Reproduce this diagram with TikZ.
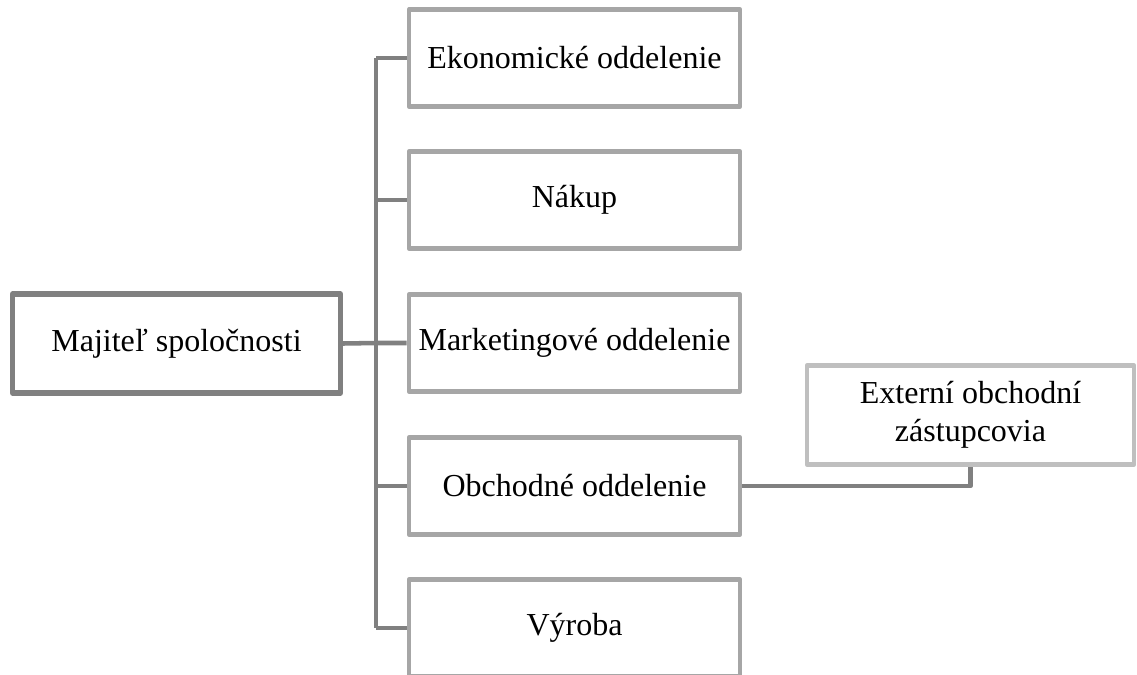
\documentclass[tikz,border=0pt]{standalone}
\usepackage{fontspec}
\setmainfont{Liberation Serif}
\begin{document}
\begin{tikzpicture}[x=0.75pt,y=-0.75pt,
  boxfont/.style={font=\fontsize{24}{28.5}\selectfont},
  ownerbox/.style={draw=ownerc,line width=4pt,line join=round,fill=white,minimum width=328*0.75pt,minimum height=99*0.75pt,inner sep=0pt,boxfont},
  childbox/.style={draw=childc,line width=3.6pt,line join=round,fill=white,minimum width=331*0.75pt,minimum height=97*0.75pt,inner sep=0pt,boxfont},
  extbox/.style={draw=extc,line width=3.6pt,line join=round,fill=white,minimum width=327*0.75pt,minimum height=99*0.75pt,inner sep=0pt,align=center,boxfont},
  conn/.style={draw=connc,line width=3.4pt,line join=round}]
\definecolor{ownerc}{HTML}{808080}
\definecolor{childc}{HTML}{A6A6A6}
\definecolor{extc}{HTML}{BFBFBF}
\definecolor{connc}{HTML}{808080}
\clip (0,0) rectangle (1137,674);
\fill[white] (0,0) rectangle (1137,674);
% trunk
\coordinate (ttop) at (376,58);
\coordinate (tbot) at (376,628);
\coordinate (tmid) at (376,343);
\coordinate (tb2) at (376,200);
\coordinate (tb4) at (376,486);
\draw[conn] (ttop) -- (tbot);
\node[ownerbox] (owner) at (176.5,343.5) {Majiteľ spoločnosti};
\node[childbox] (c1) at (574.5,58) {Ekonomické oddelenie};
\node[childbox] (c2) at (574.5,200) {Nákup};
\node[childbox] (c3) at (574.5,343) {Marketingové oddelenie};
\node[childbox] (c4) at (574.5,486) {Obchodné oddelenie};
\node[childbox] (c5) at (574.5,628) {Výroba};
\node[extbox] (ext) at (970.5,415) {Externí obchodní\\zástupcovia};
\draw[conn] (owner.east) -- (tmid) -- (c3.west);
\draw[conn] (ttop) -- (c1.west);
\draw[conn] (tb2) -- (c2.west);
\draw[conn] (tb4) -- (c4.west);
\draw[conn] (tbot) -- (c5.west);
\draw[conn] (c4.east) -| (ext.south);
\end{tikzpicture}
\end{document}
